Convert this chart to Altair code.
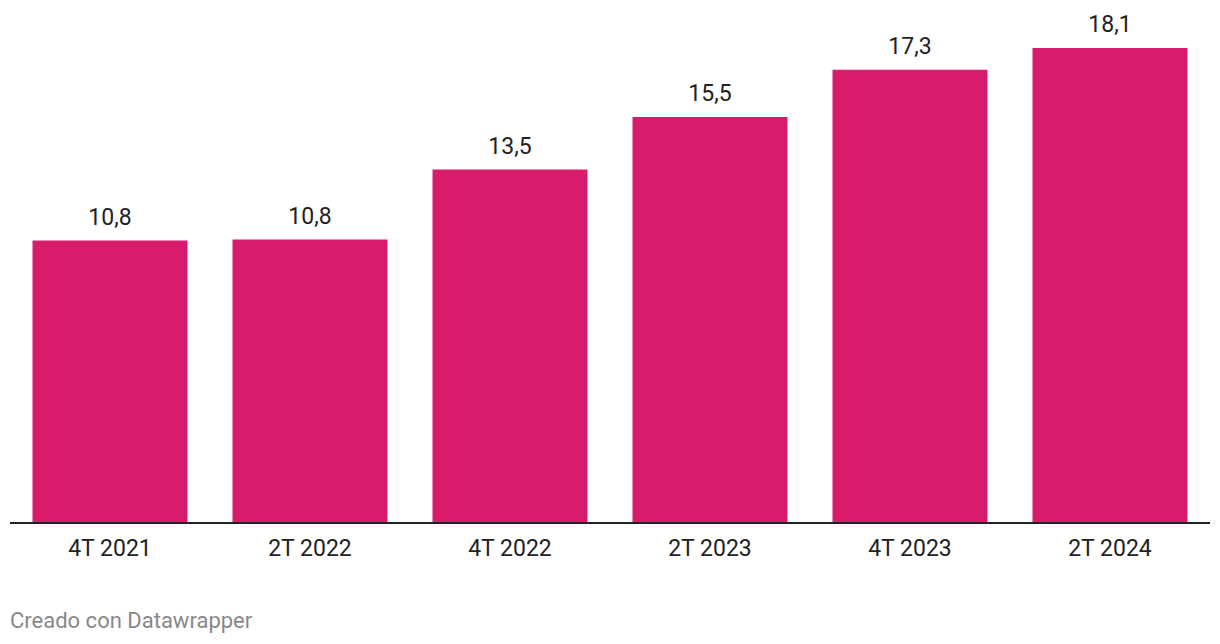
import altair as alt
import pandas as pd

periods = ["4T 2021", "2T 2022", "4T 2022", "2T 2023", "4T 2023", "2T 2024"]
values = [10.76, 10.8, 13.47, 15.47, 17.27, 18.1]

df = pd.DataFrame({"periodo": periods, "valor": values})

x_enc = alt.X(
    "periodo:N",
    sort=periods,
    scale=alt.Scale(paddingInner=0.225, paddingOuter=0.1125),
    axis=alt.Axis(
        title=None, domain=False, ticks=False, labelAngle=0,
        labelFontSize=23, labelColor="#222222", labelFont="Roboto",
        labelPadding=14,
    ),
)
y_scale = alt.Scale(domain=[0, 18.1], nice=False, zero=True)

bars = alt.Chart(df).mark_bar(color="#d81b6a").encode(
    x=x_enc,
    y=alt.Y("valor:Q", scale=y_scale, axis=None),
)

labels = alt.Chart(df).transform_calculate(
    lbl="replace(format(datum.valor, '.1f'), '.', ',')"
).mark_text(
    font="Roboto", fontSize=23, color="#222222", baseline="alphabetic", dy=-16
).encode(
    x=alt.X("periodo:N", sort=periods),
    y=alt.Y("valor:Q", scale=y_scale),
    text="lbl:N",
)

baseline = alt.Chart(pd.DataFrame({"z": [0]})).mark_rule(
    color="#222222", strokeWidth=2
).encode(
    y=alt.Y("z:Q", scale=y_scale),
    x=alt.value(0),
    x2=alt.value(1200),
)

footer = alt.Chart(pd.DataFrame({"t": ["Creado con Datawrapper"]})).mark_text(
    font="Roboto", fontSize=22, color="#888888", align="left", baseline="alphabetic"
).encode(
    text="t:N",
    x=alt.value(0),
    y=alt.value(580),
)

chart = alt.layer(bars, labels, baseline, footer).properties(
    width=1200,
    height=475,
    background="white",
    autosize=alt.AutoSizeParams(type="none"),
    padding={"left": 10, "top": 48, "right": 10, "bottom": 121},
).configure_view(stroke=None, strokeWidth=0)

chart.save("out.html", embed_options={"renderer": "svg", "actions": False})
